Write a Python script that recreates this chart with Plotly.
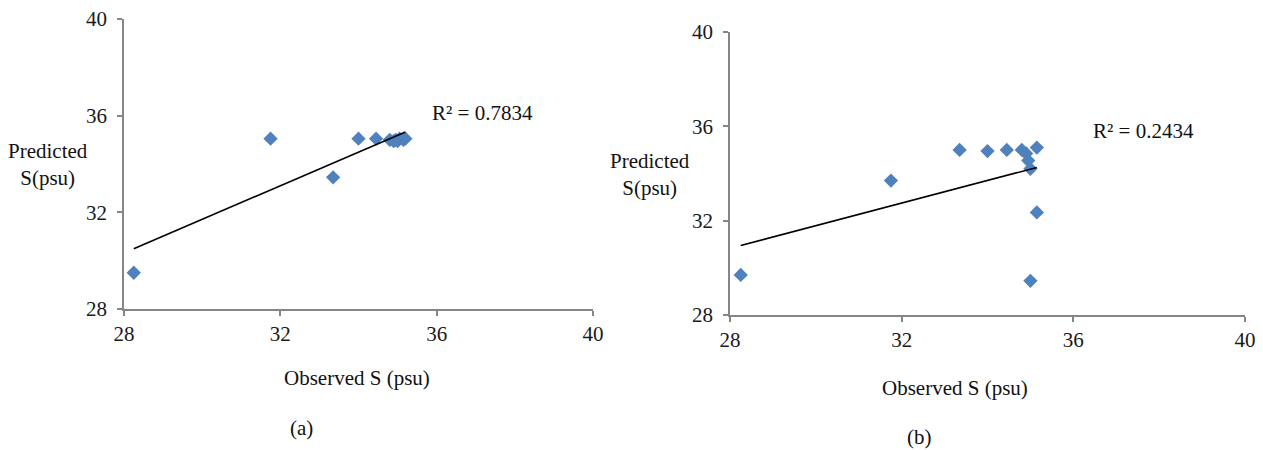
import numpy as np
import plotly.graph_objects as go

# ---- data ----
obs_a = [28.25, 31.75, 33.35, 34.0, 34.45, 34.8, 34.9, 34.95, 35.0, 35.05, 35.15, 35.2]
pred_a = [29.5, 35.05, 33.45, 35.05, 35.05, 35.0, 34.95, 35.0, 34.95, 35.05, 35.0, 35.05]
obs_b = [28.25, 31.75, 33.35, 34.0, 34.45, 34.8, 34.9, 34.95, 35.0, 35.15, 35.15, 35.0]
pred_b = [29.7, 33.7, 35.0, 34.95, 35.0, 35.0, 34.85, 34.55, 34.2, 35.1, 32.35, 29.45]
r2_labels = ["R² = 0.7834", "R² = 0.2434"]
tick_vals = [28, 32, 36, 40]
tick_text = ["28", "32", "36", "40"]
panel_labels = ["(a)", "(b)"]
x_title = "Observed S (psu)"
y_title = "Predicted<br>S(psu)"

W, H = 1263, 450
FONT = "Liberation Serif"
BLUE = "#4F81BD"
GRAY = "#868686"


def px(x):
    return x / W


def py(y):
    return 1 - y / H


fig = go.Figure()

panels = [
    dict(obs=obs_a, pred=pred_a, xa="x", ya="y"),
    dict(obs=obs_b, pred=pred_b, xa="x2", ya="y2"),
]

for p in panels:
    fig.add_trace(go.Scatter(
        x=p["obs"], y=p["pred"], mode="markers",
        marker=dict(symbol="diamond", size=11, color=BLUE, line=dict(width=0)),
        xaxis=p["xa"], yaxis=p["ya"], showlegend=False, cliponaxis=False))
    slope, icpt = np.polyfit(p["obs"], p["pred"], 1)
    tx = np.array([min(p["obs"]), max(p["obs"])])
    fig.add_trace(go.Scatter(
        x=tx, y=slope * tx + icpt, mode="lines",
        line=dict(color="black", width=1.6),
        xaxis=p["xa"], yaxis=p["ya"], showlegend=False))

axis_common = dict(
    range=[28, 40], tickvals=tick_vals, ticktext=tick_text, automargin=False,
    showgrid=False, zeroline=False, showline=True, linecolor=GRAY, linewidth=1.5,
    ticks="outside", ticklen=5, tickcolor=GRAY, tickwidth=1.5,
    tickfont=dict(family=FONT, size=21, color="#1a1a1a"))

fig.update_layout(
    width=W, height=H, margin=dict(l=0, r=0, t=0, b=0),
    plot_bgcolor="white", paper_bgcolor="white",
    xaxis=dict(domain=[px(124), px(593)], anchor="y", **axis_common),
    yaxis=dict(domain=[py(309), py(19)], anchor="x", ticklabelstandoff=6, **axis_common),
    xaxis2=dict(domain=[px(730), px(1245)], anchor="y2", **axis_common),
    yaxis2=dict(domain=[py(315), py(32)], anchor="x2", ticklabelstandoff=6, **axis_common),
)

tf = dict(family=FONT, size=21, color="#111")
ann = [
    (r2_labels[0], 482, 113),
    (r2_labels[1], 1143, 131),
    (x_title, 357, 378),
    (x_title, 955, 388),
    (y_title, 48, 164),
    (y_title, 650, 174),
    (panel_labels[0], 301, 428),
    (panel_labels[1], 920, 437),
]
for txt, x, y in ann:
    fig.add_annotation(text=txt, x=px(x), y=py(y), xref="paper", yref="paper",
                       showarrow=False, font=tf, xanchor="center", yanchor="middle")

fig.write_html("out.html")
